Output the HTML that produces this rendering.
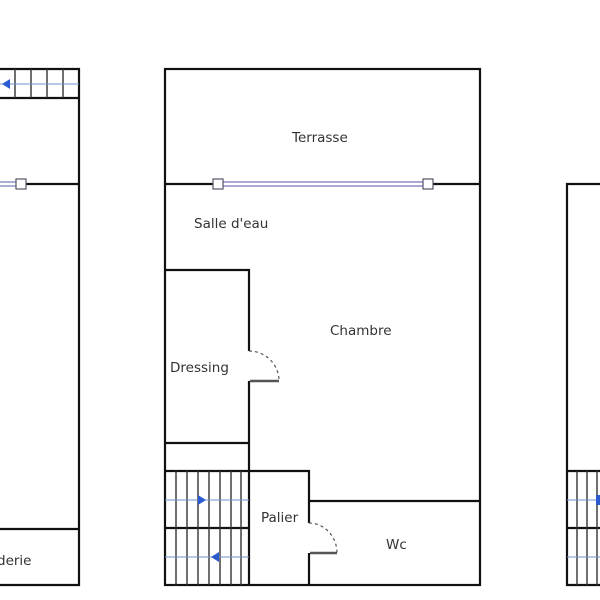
<!DOCTYPE html>
<html><head><style>body{margin:0;background:#fff}svg{display:block}</style></head>
<body>
<svg width="600" height="600" viewBox="0 0 600 600" xmlns="http://www.w3.org/2000/svg" font-family="DejaVu Sans, sans-serif" font-size="13.5" fill="none">
<g stroke="#111" stroke-width="2.2">
<polyline points="0,69 79,69 79,585 0,585"/>
<line x1="0" y1="98" x2="79" y2="98"/>
<line x1="26" y1="184" x2="79" y2="184"/>
<line x1="0" y1="529" x2="79" y2="529"/>
<rect x="165" y="69" width="315" height="516"/>
<line x1="165" y1="184" x2="213" y2="184"/>
<line x1="433" y1="184" x2="480" y2="184"/>
<polyline points="165,270 249,270 249,351"/>
<line x1="249" y1="381" x2="249" y2="471"/>
<line x1="165" y1="443" x2="249" y2="443"/>
<polyline points="165,471 309,471 309,523"/>
<line x1="309" y1="553" x2="309" y2="585"/>
<line x1="309" y1="501" x2="480" y2="501"/>
<line x1="249" y1="471" x2="249" y2="585"/>
<line x1="165" y1="528" x2="249" y2="528"/>
<polyline points="600,184 567,184 567,585 600,585"/>
<line x1="567" y1="471" x2="600" y2="471"/>
<line x1="567" y1="528" x2="600" y2="528"/>
</g>
<g stroke="#333" stroke-width="1.4">
<line x1="15" y1="69" x2="15" y2="98"/><line x1="31" y1="69" x2="31" y2="98"/><line x1="47" y1="69" x2="47" y2="98"/><line x1="63" y1="69" x2="63" y2="98"/>
<line x1="176" y1="471" x2="176" y2="528"/><line x1="187" y1="471" x2="187" y2="528"/><line x1="198" y1="471" x2="198" y2="528"/><line x1="209" y1="471" x2="209" y2="528"/><line x1="220" y1="471" x2="220" y2="528"/><line x1="231" y1="471" x2="231" y2="528"/><line x1="241" y1="471" x2="241" y2="528"/>
<line x1="176" y1="528" x2="176" y2="585"/><line x1="187" y1="528" x2="187" y2="585"/><line x1="198" y1="528" x2="198" y2="585"/><line x1="209" y1="528" x2="209" y2="585"/><line x1="220" y1="528" x2="220" y2="585"/><line x1="231" y1="528" x2="231" y2="585"/><line x1="241" y1="528" x2="241" y2="585"/>
<line x1="577" y1="471" x2="577" y2="585"/><line x1="587" y1="471" x2="587" y2="585"/><line x1="597" y1="471" x2="597" y2="585"/>
</g>
<g stroke="#6f8fd0" stroke-width="1">
<line x1="0" y1="84" x2="79" y2="84"/>
<line x1="165" y1="500" x2="249" y2="500"/>
<line x1="165" y1="557" x2="249" y2="557"/>
<line x1="567" y1="500" x2="600" y2="500"/>
<line x1="567" y1="557" x2="600" y2="557"/>
</g>
<g fill="#2a5bd0">
<polygon points="2,84 10,79 10,89"/>
<polygon points="206,500 198,495 198,505"/>
<polygon points="211,557 219,552 219,562"/>
<rect x="596" y="495" width="4" height="10"/>
</g>
<g stroke="#7a78b8" stroke-width="1.2">
<line x1="0" y1="182" x2="16" y2="182"/><line x1="0" y1="186" x2="16" y2="186"/>
<line x1="223" y1="182" x2="423" y2="182"/><line x1="223" y1="186" x2="423" y2="186"/>
</g>
<g stroke="#556" stroke-width="1.2" fill="#fff">
<rect x="16" y="179" width="10" height="10"/>
<rect x="213" y="179" width="10" height="10"/>
<rect x="423" y="179" width="10" height="10"/>
</g>
<g stroke="#555" stroke-width="2.5">
<line x1="250" y1="381" x2="279" y2="381"/>
<line x1="310" y1="553" x2="337" y2="553"/>
</g>
<g stroke="#555" stroke-width="1.2" stroke-dasharray="3,3">
<path d="M249,351 A30,30 0 0 1 279,381"/>
<path d="M309,523 A28,30 0 0 1 337,553"/>
</g>
<g fill="#333" stroke="none">
<text x="292" y="142">Terrasse</text>
<text x="194" y="228">Salle d'eau</text>
<text x="330" y="335">Chambre</text>
<text x="170" y="372">Dressing</text>
<text x="261" y="522">Palier</text>
<text x="386" y="549">Wc</text>
<text x="-3" y="565">derie</text>
</g>
</svg>
</body></html>
